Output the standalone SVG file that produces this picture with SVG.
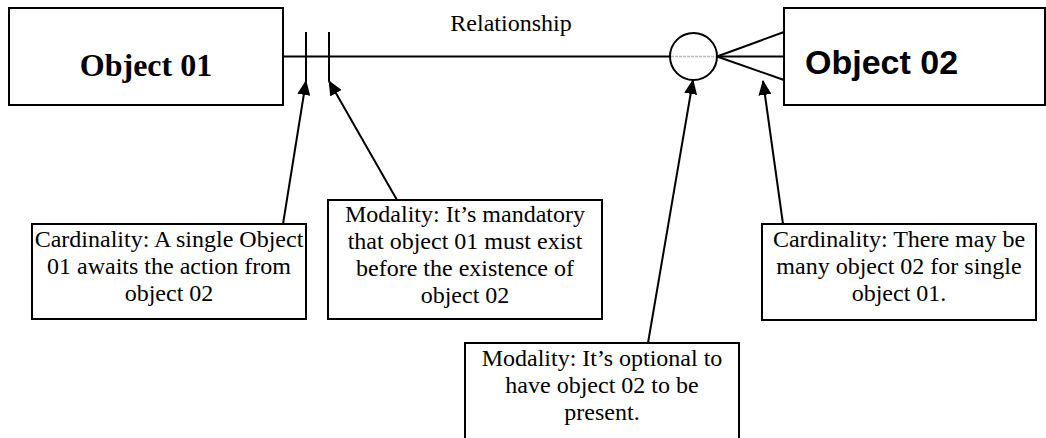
<svg xmlns="http://www.w3.org/2000/svg" width="1046" height="438" viewBox="0 0 1046 438">
<style>
.box{fill:#fff;stroke:#000;stroke-width:2}
.ln{stroke:#000;stroke-width:2;fill:none}
.t{font-family:"Liberation Serif","Times New Roman",serif;font-size:24px;fill:#000;text-anchor:middle}
.arr{stroke:#000;stroke-width:2;fill:none;marker-end:url(#ah)}
</style>
<defs>
<marker id="ah" viewBox="0 0 15 13" refX="14" refY="6.5" markerWidth="15" markerHeight="13" markerUnits="userSpaceOnUse" orient="auto">
<path d="M0,0 L15,6.5 L0,13 Z" fill="#000"/>
</marker>
</defs>
<rect width="1046" height="438" fill="#fff"/>
<g id="connectors">
<line class="ln" x1="283" y1="56.5" x2="670" y2="56.5"/>
<line x1="671" y1="56.5" x2="716" y2="56.5" stroke="#bbb" stroke-width="1.5" stroke-dasharray="3,1"/>
<line class="ln" x1="306" y1="32" x2="306" y2="81"/>
<line class="ln" x1="329" y1="32" x2="329" y2="81"/>
<line class="ln" x1="717" y1="56.5" x2="784" y2="32"/>
<line class="ln" x1="717" y1="56.5" x2="784" y2="56.5"/>
<line class="ln" x1="717" y1="56.5" x2="784" y2="80"/>
<line class="arr" x1="283" y1="224" x2="306" y2="81"/>
<line class="arr" x1="397" y1="200" x2="329" y2="81"/>
<line class="arr" x1="648" y1="343" x2="693" y2="80"/>
<line class="arr" x1="783" y1="224" x2="763" y2="81"/>
</g>
<g id="optional-circle">
<circle cx="693.5" cy="56.5" r="23.5" fill="none" stroke="#000" stroke-width="2"/>
</g>
<g id="object01">
<rect class="box" x="9" y="8" width="274" height="97"/>
<text x="146" y="76" font-family="Liberation Serif,'Times New Roman',serif" font-size="32" font-weight="bold" text-anchor="middle">Object 01</text>
</g>
<g id="object02">
<rect class="box" x="784" y="8" width="261" height="97"/>
<text x="805" y="74" font-family="Liberation Sans,Arial,sans-serif" font-size="34" font-weight="bold">Object 02</text>
</g>
<g id="relationship-label">
<text class="t" x="511" y="31">Relationship</text>
</g>
<g id="note-cardinality-01">
<rect class="box" x="32" y="224" width="274" height="95"/>
<text class="t"><tspan x="169" y="247">Cardinality: A single Object</tspan><tspan x="169" y="274">01 awaits the action from</tspan><tspan x="169" y="301">object 02</tspan></text>
</g>
<g id="note-modality-01">
<rect class="box" x="328" y="200" width="274" height="119"/>
<text class="t"><tspan x="465" y="222">Modality: It’s mandatory</tspan><tspan x="465" y="249">that object 01 must exist</tspan><tspan x="465" y="276">before the existence of</tspan><tspan x="465" y="303">object 02</tspan></text>
</g>
<g id="note-modality-02">
<rect class="box" x="465" y="343" width="274" height="110"/>
<text class="t"><tspan x="602" y="366">Modality: It’s optional to</tspan><tspan x="602" y="393">have object 02 to be</tspan><tspan x="602" y="420">present.</tspan></text>
</g>
<g id="note-cardinality-02">
<rect class="box" x="762" y="224" width="274" height="96"/>
<text class="t"><tspan x="899" y="247">Cardinality: There may be</tspan><tspan x="899" y="274">many object 02 for single</tspan><tspan x="899" y="301">object 01.</tspan></text>
</g>
</svg>
